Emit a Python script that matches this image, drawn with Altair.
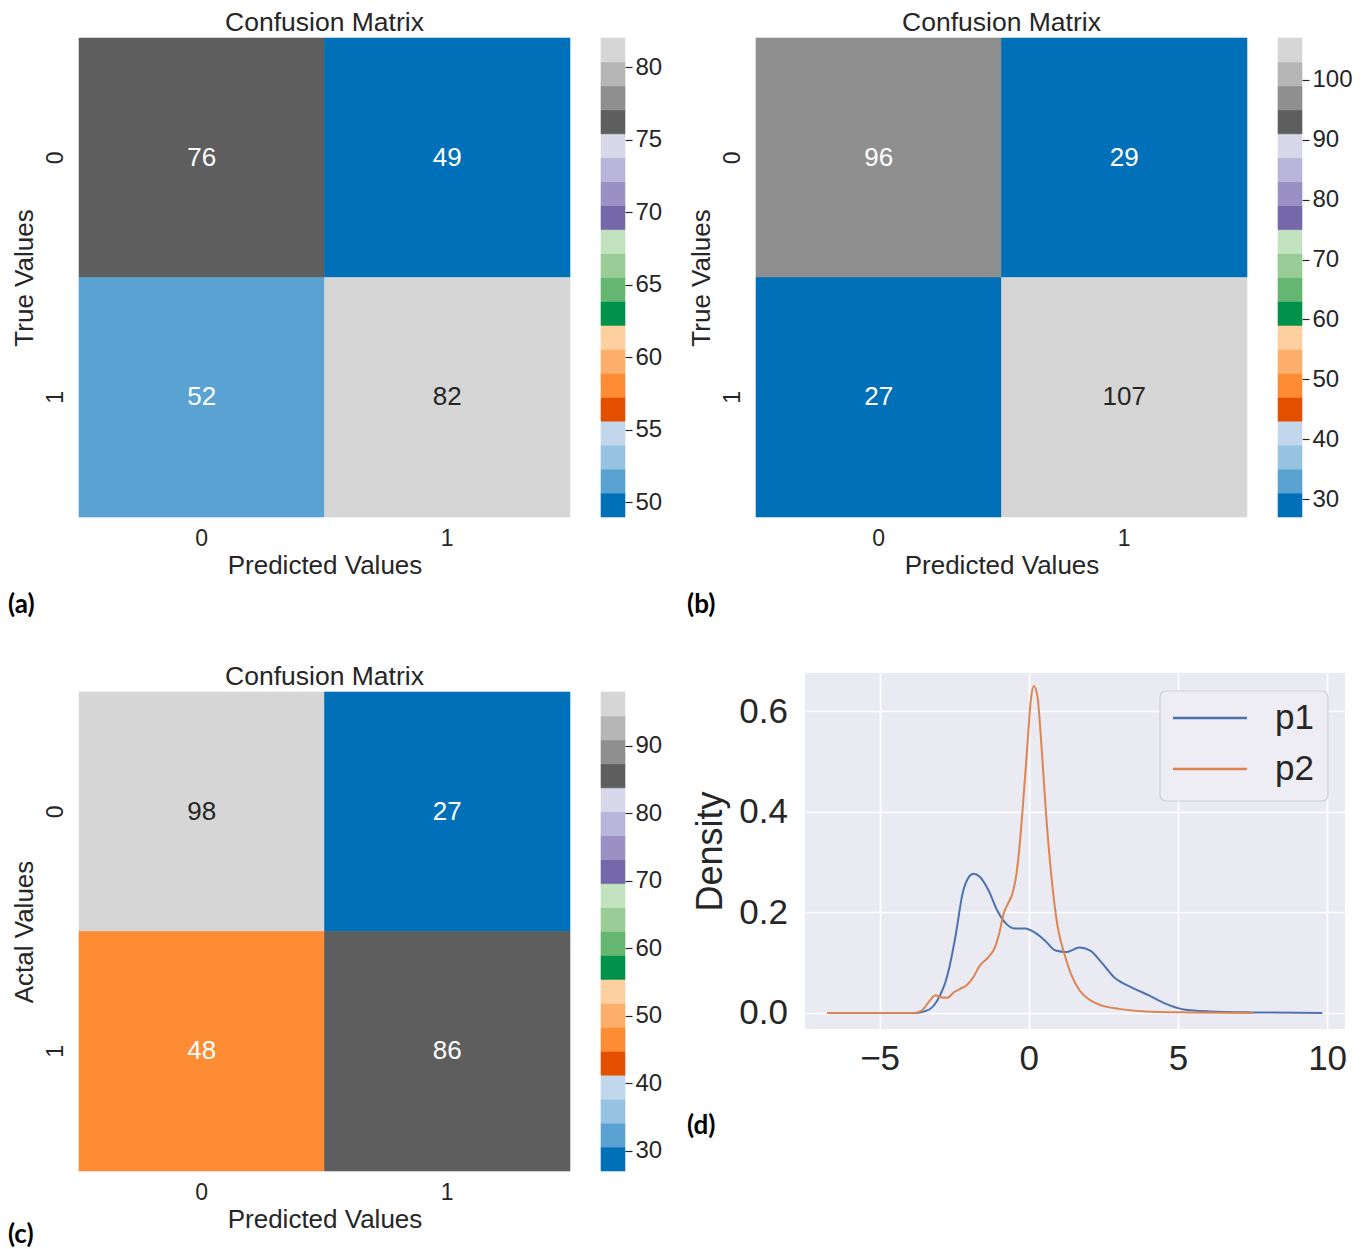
import altair as alt
import pandas as pd

CLASSES = ["0", "1"]

# Confusion-matrix counts: rows = true class, columns = predicted class
CM_A = [[76, 49], [52, 82]]
CM_B = [[96, 29], [27, 107]]
CM_C = [[98, 27], [48, 86]]

CBAR_TICKS_A = [50, 55, 60, 65, 70, 75, 80]
CBAR_TICKS_B = [30, 40, 50, 60, 70, 80, 90, 100]
CBAR_TICKS_C = [30, 40, 50, 60, 70, 80, 90]

# 20-step ramp: blues, oranges, greens, purples, greys
TAB20C = [
    "#0071b8", "#5aa2d1", "#96c3e1", "#c2d6ec",
    "#e45000", "#fe8c35", "#feae6b", "#fecf9f",
    "#00914a", "#64b671", "#99cc96", "#c3e2bf",
    "#7468ab", "#9b90c4", "#b7b5d9", "#d9d7ea",
    "#5e5e5e", "#8f8f8f", "#b6b6b6", "#d6d6d6",
]

# Kernel density estimates of the two predictors
P1_X = [-6.0, -4.5, -3.8, -3.5, -3.24, -2.95, -2.8, -2.66, -2.44, -2.22, -2.0,
        -1.86, -1.64, -1.35, -1.06, -0.77, -0.48, -0.12, 0.17, 0.54, 0.90, 1.26,
        1.70, 2.06, 2.43, 2.86, 3.44, 4.03, 4.6, 5.19, 6.06, 7.5, 9.84]
P1_Y = [0.0, 0.0, 0.0, 0.003, 0.011, 0.038, 0.06, 0.091, 0.158, 0.237, 0.271,
        0.277, 0.271, 0.244, 0.204, 0.178, 0.168, 0.168, 0.161, 0.144, 0.124, 0.121,
        0.130, 0.124, 0.101, 0.071, 0.051, 0.035, 0.018, 0.007, 0.003, 0.001, 0.0]
P2_X = [-6.76, -4.5, -3.82, -3.53, -3.31, -3.13, -2.95, -2.73, -2.51, -2.30, -2.08,
        -1.86, -1.64, -1.35, -1.13, -0.99, -0.84, -0.70, -0.55, -0.41, -0.31, -0.19,
        -0.04, 0.07, 0.17, 0.29, 0.42, 0.57, 0.76, 0.97, 1.19, 1.41, 1.70, 1.99,
        2.43, 3.01, 3.88, 5.33, 7.51]
P2_Y = [0.0, 0.0, 0.0, 0.008, 0.025, 0.035, 0.031, 0.030, 0.041, 0.048, 0.055,
        0.071, 0.094, 0.111, 0.131, 0.158, 0.198, 0.217, 0.237, 0.277, 0.331, 0.417,
        0.537, 0.623, 0.650, 0.630, 0.537, 0.404, 0.271, 0.171, 0.118, 0.078, 0.045, 0.028,
        0.015, 0.008, 0.003, 0.001, 0.0]
DENSITY_X_TICKS = [-5, 0, 5, 10]
DENSITY_Y_TICKS = [0.0, 0.2, 0.4, 0.6]
SERIES = ["p1", "p2"]
SERIES_COLORS = ["#4c72b0", "#dd8452"]

PANEL_TITLE = "Confusion Matrix"
INK = "#262626"
FONT = "Liberation Sans"
TAG_FONT = "Lato"

HEAT_W, HEAT_H = 491, 479
DENS_W, DENS_H = 540, 356


def luminance(hex_color):
    def lin(c):
        return c / 12.92 if c <= 0.03928 else ((c + 0.055) / 1.055) ** 2.4
    r, g, b = (int(hex_color[i:i + 2], 16) / 255 for i in (1, 3, 5))
    return 0.2126 * lin(r) + 0.7152 * lin(g) + 0.0722 * lin(b)


def panel_tag(tag, x, y):
    return alt.Chart(pd.DataFrame({"tag": [tag]})).mark_text(
        font=TAG_FONT, fontSize=26, fontWeight="bold", align="left",
        baseline="alphabetic", color="#000000",
    ).encode(x=alt.value(x), y=alt.value(y), text="tag:N")


def confusion_panel(matrix, cbar_ticks, y_title, tag, tag_x, tag_y):
    flat = [v for row in matrix for v in row]
    vmin, vmax = min(flat), max(flat)
    n = len(TAB20C)

    def bin_color(v):
        return TAB20C[min(int((v - vmin) / (vmax - vmin) * n), n - 1)]

    cells = pd.DataFrame([
        {"true": t, "pred": p, "count": matrix[i][j],
         "ink": INK if luminance(bin_color(matrix[i][j])) > 0.408 else "#ffffff"}
        for i, t in enumerate(CLASSES) for j, p in enumerate(CLASSES)
    ])
    step = (vmax - vmin) / n
    bands = pd.DataFrame({"lo": [vmin + k * step for k in range(n)],
                          "hi": [vmin + (k + 1) * step for k in range(n)]})
    bands["count"] = (bands["lo"] + bands["hi"]) / 2

    scale = alt.Scale(type="quantize", domain=[vmin, vmax], range=TAB20C)
    band_scale = alt.Scale(paddingInner=0, paddingOuter=0)
    x_enc = alt.X("pred:N", sort=CLASSES, scale=band_scale, axis=alt.Axis(
        title="Predicted Values", labelAngle=0, labelFontSize=23, labelPadding=10,
        ticks=False, tickSize=0, domain=False, grid=False,
        titleFontSize=26, titlePadding=2))
    y_enc = alt.Y("true:N", sort=CLASSES, scale=band_scale, axis=alt.Axis(
        title=y_title, labelAngle=270, labelFontSize=23, labelPadding=12,
        ticks=False, tickSize=0, domain=False, grid=False,
        titleFontSize=26, titlePadding=7))

    rects = alt.Chart(cells).mark_rect(strokeWidth=0.6).encode(
        x=x_enc, y=y_enc,
        color=alt.Color("count:Q", scale=scale, legend=None),
        stroke=alt.Stroke("count:Q", scale=scale, legend=None),
    )
    labels = alt.Chart(cells).mark_text(font=FONT, fontSize=26, baseline="middle").encode(
        x=x_enc, y=y_enc, text="count:Q", fill=alt.Fill("ink:N", scale=None),
    )
    cbar = alt.Chart(bands).mark_rect(strokeWidth=0.6).encode(
        x=alt.value(HEAT_W + 31), x2=alt.value(HEAT_W + 55),
        y=alt.Y("lo:Q", scale=alt.Scale(domain=[vmin, vmax], nice=False, zero=False),
                axis=alt.Axis(orient="right", offset=55, values=cbar_ticks, title=None,
                              domain=False, grid=False, tickSize=7, tickWidth=1.2,
                              tickColor=INK, labelPadding=3, labelFontSize=24)),
        y2="hi:Q",
        color=alt.Color("count:Q", scale=scale, legend=None),
        stroke=alt.Stroke("count:Q", scale=scale, legend=None),
    )
    heading = alt.Chart(pd.DataFrame({"title": [PANEL_TITLE]})).mark_text(
        font=FONT, fontSize=26.5, color=INK, align="center", baseline="alphabetic",
    ).encode(x=alt.value(HEAT_W / 2), y=alt.value(-7.5), text="title:N")

    return alt.layer(
        alt.layer(rects, labels), cbar, heading, panel_tag(tag, tag_x, tag_y)
    ).resolve_scale(y="independent").properties(width=HEAT_W, height=HEAT_H)


def density_panel():
    frames = []
    for name, xs, ys in (("p1", P1_X, P1_Y), ("p2", P2_X, P2_Y)):
        frames.append(pd.DataFrame({"series": name, "x": xs, "density": ys,
                                    "order": list(range(len(xs)))}))
    dens = pd.concat(frames, ignore_index=True)

    lines = alt.Chart(dens).mark_line(strokeWidth=2, interpolate="monotone").encode(
        x=alt.X("x:Q", scale=alt.Scale(domain=[-7.5, 10.6], nice=False, zero=False),
                axis=alt.Axis(values=DENSITY_X_TICKS, title=None, labelFontSize=35,
                              labelPadding=12, grid=True, gridColor="#ffffff", gridWidth=1.6,
                              domain=False, ticks=False, tickSize=0,
                              labelExpr="replace(datum.label, '-', '\u2212')")),
        y=alt.Y("density:Q", scale=alt.Scale(domain=[-0.032, 0.676], nice=False, zero=False),
                axis=alt.Axis(values=DENSITY_Y_TICKS, format=".1f", title="Density",
                              titleFontSize=36, titlePadding=9.5, labelFontSize=35,
                              labelPadding=17.5, grid=True, gridColor="#ffffff", gridWidth=1.6,
                              domain=False, ticks=False, tickSize=0)),
        color=alt.Color("series:N", scale=alt.Scale(domain=SERIES, range=SERIES_COLORS),
                        legend=None),
        order="order:Q",
    )

    legend_df = pd.DataFrame({"series": SERIES, "color": SERIES_COLORS})
    box = alt.Chart(legend_df.head(1)).mark_rect(
        fill="#ededf3", stroke="#cfcfd6", strokeWidth=1.2, cornerRadius=6,
    ).encode(x=alt.value(355), x2=alt.value(523), y=alt.value(18), y2=alt.value(128))
    entries = []
    for i, (name, col) in enumerate(zip(SERIES, SERIES_COLORS)):
        row = alt.Chart(legend_df).transform_filter(alt.datum.series == name)
        entries.append(row.mark_rule(strokeWidth=2.5, color=col).encode(
            x=alt.value(368), x2=alt.value(442), y=alt.value(45 + 51 * i)))
        entries.append(row.mark_text(font=FONT, fontSize=35, align="left",
                                     baseline="middle", color=INK).encode(
            x=alt.value(470), y=alt.value(45 + 51 * i), text="series:N"))

    return alt.layer(lines, box, *entries, panel_tag("(d)", -118, 460.5)).properties(
        width=DENS_W, height=DENS_H,
        view=alt.ViewBackground(fill="#eaeaf2", stroke=None),
    )


panel_a = confusion_panel(CM_A, CBAR_TICKS_A, "True Values", "(a)", -71, 574.5)
panel_b = confusion_panel(CM_B, CBAR_TICKS_B, "True Values", "(b)", -69, 574.5)
panel_c = confusion_panel(CM_C, CBAR_TICKS_C, "Actal Values", "(c)", -71, 551)
panel_d = density_panel()

# empty 1px cell that indents the density panel under panel (b)
indent = alt.Chart(pd.DataFrame({"k": [0]})).mark_point(opacity=0).encode(
    x=alt.value(0), y=alt.value(0)).properties(width=1, height=1)
density_row = alt.hconcat(indent, panel_d, spacing=48, bounds="flush")

independent = dict(color="independent", stroke="independent", fill="independent")

left_col = alt.vconcat(panel_a, panel_c, spacing=45).resolve_scale(**independent)
right_col = alt.vconcat(panel_b, density_row, spacing=52).resolve_scale(**independent)

chart = alt.hconcat(left_col, right_col, spacing=25).resolve_scale(**independent).properties(
    padding={"left": 8, "top": 9, "right": 5, "bottom": 0},
    background="#ffffff",
).configure(font=FONT).configure_axis(
    labelFont=FONT, titleFont=FONT, labelColor=INK, titleColor=INK,
    titleFontWeight="normal",
).configure_view(stroke=None)

chart.save("out.html", embed_options={"renderer": "svg", "actions": False})
